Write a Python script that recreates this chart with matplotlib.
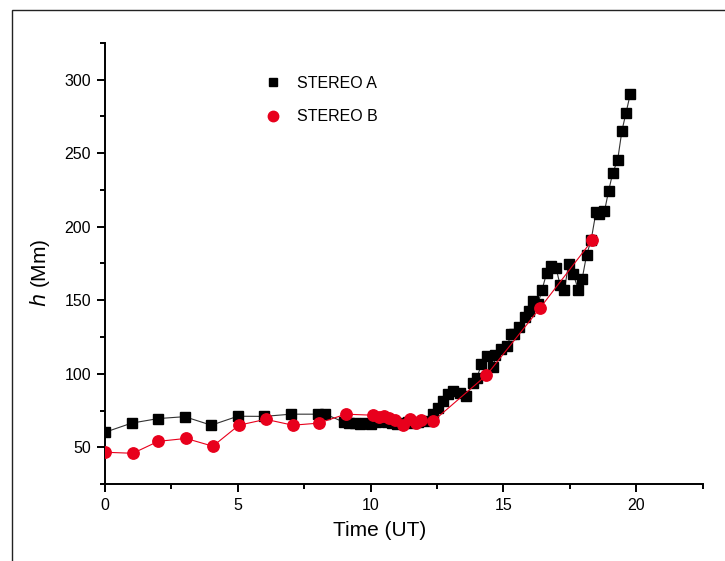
import matplotlib
matplotlib.use("Agg")
import matplotlib.pyplot as plt
from matplotlib.lines import Line2D
from matplotlib.patches import Rectangle
from matplotlib.ticker import MultipleLocator

plt.rcParams['font.family'] = ['Liberation Sans', 'DejaVu Sans']

# STEREO A (black squares)
time_a = [0.0, 1.0, 2.0, 3.0, 4.0, 5.0, 6.0, 7.0, 8.0, 8.3,
          9.0, 9.2, 9.4, 9.6, 9.8, 10.0, 10.2, 10.4, 10.6, 10.8,
          11.0, 11.2, 11.4, 11.6, 11.8, 12.09, 12.34, 12.53, 12.72, 12.9,
          13.1, 13.35, 13.6, 13.85, 14.0, 14.17, 14.37, 14.62, 14.7, 14.91,
          15.13, 15.29, 15.39, 15.6, 15.8, 15.95, 16.1, 16.3, 16.45, 16.63,
          16.8, 16.98, 17.13, 17.29, 17.45, 17.63, 17.82, 17.96, 18.13, 18.3,
          18.48, 18.6, 18.8, 18.96, 19.11, 19.3, 19.46, 19.61, 19.77]
h_a = [60.2, 66.4, 69.5, 70.8, 65.0, 71.1, 71.0, 72.5, 72.5, 72.5,
       67.0, 66.5, 66.8, 66.0, 66.5, 65.8, 67.5, 68.0, 67.5, 66.8,
       66.0, 66.5, 67.2, 66.8, 67.0, 67.7, 72.3, 76.8, 81.4, 86.0,
       88.2, 87.0, 84.8, 93.8, 97.2, 106.4, 112.0, 104.7, 113.0, 116.6,
       118.8, 126.8, 126.8, 132.0, 138.5, 142.7, 149.5, 147.7, 157.0, 168.8,
       173.4, 172.0, 160.4, 156.8, 174.5, 167.7, 157.0, 164.3, 180.9, 190.9,
       209.7, 208.8, 210.4, 224.5, 236.3, 245.6, 265.4, 277.2, 290.0]

# STEREO B (red circles)
time_b = [0.0, 1.05, 2.0, 3.05, 4.06, 5.04, 6.05, 7.07, 8.04, 9.06,
          10.08, 10.3, 10.5, 10.7, 10.9, 11.2, 11.5, 11.7, 11.9, 12.35,
          14.36, 16.38, 18.35]
h_b = [46.6, 45.9, 54.0, 56.0, 50.7, 65.0, 69.0, 65.0, 66.4, 72.5,
       71.8, 70.5, 71.0, 69.8, 68.8, 65.0, 69.0, 66.4, 68.4, 67.7,
       99.0, 144.8, 191.0]

series_labels = ["STEREO A", "STEREO B"]
x_ticks = [0, 5, 10, 15, 20]
y_ticks = [50, 100, 150, 200, 250, 300]

fig = plt.figure(figsize=(7.25, 5.61), dpi=100)
ax = fig.add_axes([105/725, 1-484/561, (702.7-105)/725, (484-43)/561])

# outer frame
fig.patches.append(Rectangle((12/725, -0.1), 1.2, 1-10/561+0.1,
                             transform=fig.transFigure, fill=False,
                             edgecolor='#222222', linewidth=1.0))

ax.plot(time_a, h_a, color='#333333', linewidth=0.8, marker='s',
        markersize=7.2, markerfacecolor='black', markeredgecolor='black',
        zorder=3)
ax.plot(time_b, h_b, color='#e8001c', linewidth=0.8, marker='o',
        markersize=8.2, markerfacecolor='#e8001c', markeredgecolor='#e8001c',
        zorder=4)

ax.set_xlim(0, 22.5)
ax.set_ylim(25, 325)
ax.set_xticks(x_ticks)
ax.set_yticks(y_ticks)
ax.xaxis.set_minor_locator(MultipleLocator(2.5))
ax.yaxis.set_minor_locator(MultipleLocator(25))
for s in ['top', 'right']:
    ax.spines[s].set_visible(False)
for s in ['left', 'bottom']:
    ax.spines[s].set_linewidth(1.4)
ax.tick_params(which='major', direction='out', length=6, width=1.4,
               labelsize=11.5, pad=4)
ax.tick_params(which='minor', direction='out', length=3.5, width=1.4)

ax.set_xlabel("Time (UT)", fontsize=15, labelpad=9)
ax.xaxis.set_label_coords(0.46, -0.085)
ax.set_ylabel(r"$\mathit{h}$ (Mm)", fontsize=15, labelpad=8)
ax.yaxis.set_label_coords(-0.088, 0.48)

handles = [Line2D([], [], linestyle='none', marker='s', markersize=6,
                  color='black'),
           Line2D([], [], linestyle='none', marker='o', markersize=7.5,
                  color='#e8001c')]
ax.legend(handles, series_labels, loc='upper left',
          bbox_to_anchor=(255/725, 1-68/561), bbox_transform=fig.transFigure,
          frameon=False, fontsize=11.5, handletextpad=0.9, labelspacing=1.15,
          handlelength=1.2, borderpad=0)

fig.savefig("out.png", dpi=100)
